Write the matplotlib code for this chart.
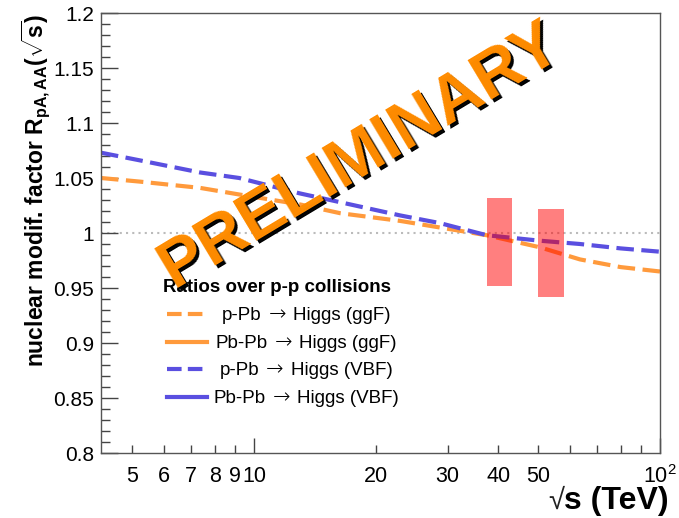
import matplotlib
matplotlib.use("Agg")
import matplotlib.pyplot as plt
import matplotlib.patches as mpatches
from matplotlib.lines import Line2D
from matplotlib import transforms
from matplotlib.ticker import FixedLocator, FixedFormatter
from matplotlib.offsetbox import TextArea, HPacker, AnnotationBbox

plt.rcParams['font.family'] = ['Liberation Sans', 'DejaVu Sans']
plt.rcParams['mathtext.fontset'] = 'custom'
plt.rcParams['mathtext.rm'] = 'Liberation Sans'
plt.rcParams['mathtext.bf'] = 'Liberation Sans:bold'
plt.rcParams['mathtext.it'] = 'Liberation Sans:italic'

# ---- data ----
sqrt_s = [4.2, 5.24, 7.37, 9.2, 12.97, 16.3, 22.9, 28.7, 37.4, 50.6, 63.5, 80.0, 100.0]
r_pPb_ggF = [1.050, 1.0467, 1.041, 1.035, 1.026, 1.018, 1.011, 1.005, 0.998, 0.987, 0.976, 0.969, 0.965]
r_pPb_VBF = [1.073, 1.066, 1.055, 1.050, 1.036, 1.028, 1.016, 1.009, 0.998, 0.993, 0.990, 0.986, 0.983]

box_x_lo = [37.4, 50.1]
box_x_hi = [43.3, 58.0]
box_y_lo = [0.952, 0.942]
box_y_hi = [1.032, 1.022]

ref_x = [4.2, 100.0]
ref_y = [1.0, 1.0]

major_x = [10, 100]
major_x_labels = ['10', '$10^2$']
minor_x = [5, 6, 7, 8, 9, 20, 30, 40, 50, 60, 70, 80, 90]
minor_x_labels = ['5', '6', '7', '8', '9', '20', '30', '40', '50', '', '', '', '']
major_y = [0.8, 0.85, 0.9, 0.95, 1.0, 1.05, 1.1, 1.15, 1.2]
major_y_labels = ['0.8', '0.85', '0.9', '0.95', '1', '1.05', '1.1', '1.15', '1.2']

legend_title = 'Ratios over p-p collisions'
legend_initial = ['p-Pb', 'Pb-Pb', 'p-Pb', 'Pb-Pb']
legend_final = ['Higgs (ggF)', 'Higgs (ggF)', 'Higgs (VBF)', 'Higgs (VBF)']

ORANGE = '#ff9a3c'
BLUE = '#5a4fe0'
dash = (0, (4.2, 1.8))

fig = plt.figure(figsize=(6.79, 5.18), dpi=100)
ax = fig.add_axes([101/679, 1-453/518, (660-101)/679, (453-13)/518])
ax.set_xscale('log')
ax.set_xlim(4.2, 100)
ax.set_ylim(0.8, 1.2)

ax.plot(ref_x, ref_y, color='#bbbbbb', lw=1.5, linestyle=(0, (1, 2)), zorder=1)
ax.plot(sqrt_s, r_pPb_ggF, color=ORANGE, lw=3, linestyle=dash, zorder=2)
ax.plot(sqrt_s, r_pPb_VBF, color=BLUE, lw=3, linestyle=dash, zorder=2)

for xl, xh, yl, yh in zip(box_x_lo, box_x_hi, box_y_lo, box_y_hi):
    ax.add_patch(mpatches.Rectangle((xl, yl), xh - xl, yh - yl, facecolor='#ff0000',
                                    alpha=0.5, edgecolor='none', zorder=3))

# ticks
ax.xaxis.set_major_locator(FixedLocator(major_x))
ax.xaxis.set_major_formatter(FixedFormatter(major_x_labels))
ax.xaxis.set_minor_locator(FixedLocator(minor_x))
ax.xaxis.set_minor_formatter(FixedFormatter(minor_x_labels))
ax.yaxis.set_major_locator(FixedLocator(major_y))
ax.yaxis.set_major_formatter(FixedFormatter(major_y_labels))
ax.yaxis.set_minor_locator(FixedLocator([0.8 + 0.01 * i for i in range(41)]))
ax.tick_params(axis='both', which='both', direction='in', color='#444444', width=1,
               top=False, right=False)
ax.tick_params(axis='x', which='major', length=11, pad=9, labelsize=15.5)
ax.tick_params(axis='x', which='minor', length=5.5, pad=9, labelsize=15.5)
ax.tick_params(axis='y', which='major', length=12, pad=5, labelsize=15)
ax.tick_params(axis='y', which='minor', length=6.5)
for s in ax.spines.values():
    s.set_color('#555555')
    s.set_linewidth(1)

fig.text(36/679, 1-14/518, r'nuclear modif. factor R$_{\mathbf{pA,AA}}$($\sqrt{\mathbf{s}}$)',
         rotation=90, ha='center', va='top', fontsize=16.5, fontweight='bold')

# x-axis title: thin radical + bold text
xt_l = TextArea('\u221a', textprops=dict(fontsize=21, color='#222222'))
xt_r = TextArea('s (TeV)', textprops=dict(fontsize=23, fontweight='bold'))
xt = HPacker(children=[xt_l, xt_r], align='baseline', pad=0, sep=0)
fig.add_artist(AnnotationBbox(xt, (669/679, 1-501/518), xycoords='figure fraction',
                              box_alignment=(1.0, 0.5), frameon=False, pad=0))

# legend (manual, ROOT style)
fig.text(163/679, 1-287/518, legend_title, ha='left', va='center', fontsize=13.5,
         fontweight='bold')
leg_styles = [(ORANGE, dash), (ORANGE, '-'), (BLUE, dash), (BLUE, '-')]
leg_y = [314, 342, 369, 397]
for (c, ls), yy, a, b in zip(leg_styles, leg_y, legend_initial, legend_final):
    fig.add_artist(Line2D([167/679, 207/679], [1-yy/518, 1-yy/518], color=c, lw=3,
                          linestyle=(0, (3.5, 1.5)) if ls != '-' else '-',
                          transform=fig.transFigure))
    parts = [TextArea(a, textprops=dict(fontsize=13.5)),
             TextArea('\u2192', textprops=dict(fontsize=15, family='DejaVu Sans',
                                               fontweight='light')),
             TextArea(b, textprops=dict(fontsize=13.5))]
    box = HPacker(children=parts, align='baseline', pad=0, sep=5)
    fig.add_artist(AnnotationBbox(box, (306/679, 1-yy/518), xycoords='figure fraction',
                                  box_alignment=(0.5, 0.5), frameon=False, pad=0))

# PRELIMINARY watermark with shadow
pcx, pcy = 360/679, 1-156/518
shadow_tr = transforms.offset_copy(fig.transFigure, fig=fig, x=3, y=-3, units='dots')
fig.text(pcx, pcy, 'PRELIMINARY', transform=shadow_tr, rotation=31, ha='center',
         va='center', fontsize=48, fontweight='bold', color='black', rotation_mode='anchor')
fig.text(pcx, pcy, 'PRELIMINARY', rotation=31, ha='center', va='center', fontsize=48,
         fontweight='bold', color='#ff8c00', rotation_mode='anchor')

fig.savefig('out.png', dpi=100)
